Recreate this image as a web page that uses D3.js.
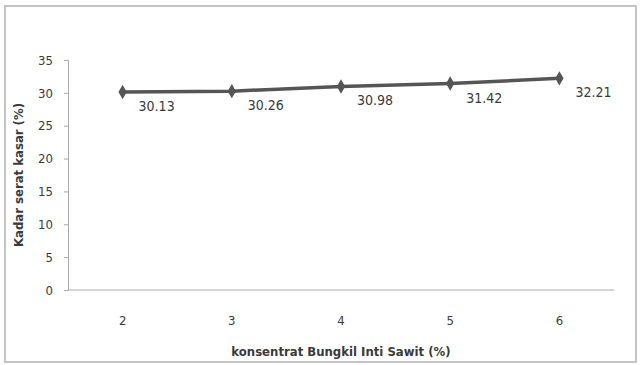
<!DOCTYPE html>
<html>
<head>
<meta charset="utf-8">
<script src="https://cdn.jsdelivr.net/npm/d3@7"></script>
<style>
  body { margin: 0; background: #fff; }
  text { font-family: "DejaVu Sans", sans-serif; font-stretch: condensed; fill: #3a3a3a; }
</style>
</head>
<body>
<div id="chart"></div>
<script>
const categories = ["2", "3", "4", "5", "6"];
const values = [30.13, 30.26, 30.98, 31.42, 32.21];
const yTicks = [0, 5, 10, 15, 20, 25, 30, 35];

const W = 641, H = 365;
const margin = { top: 60, right: 27, bottom: 75, left: 68 };

const svg = d3.select("#chart").append("svg")
    .attr("width", W)
    .attr("height", H);

// outer frame
svg.append("rect")
    .attr("x", 5).attr("y", 6)
    .attr("width", 631).attr("height", 356)
    .attr("fill", "none")
    .attr("stroke", "#c4c4c4")
    .attr("stroke-width", 2);

const x = d3.scaleBand()
    .domain(categories)
    .range([margin.left, W - margin.right]);

const y = d3.scaleLinear()
    .domain([0, 35])
    .range([H - margin.bottom, margin.top]);

// y axis
const yAxis = svg.append("g")
    .attr("transform", `translate(${margin.left},0)`)
    .call(d3.axisLeft(y).tickValues(yTicks).tickSize(4).tickPadding(11));
yAxis.select(".domain").attr("stroke", "#a8a8a8");
yAxis.selectAll(".tick line").attr("stroke", "#a8a8a8");
yAxis.selectAll("text").style("font-size", "13px").attr("fill", "#3a3a3a");

// x axis
const xAxis = svg.append("g")
    .attr("transform", `translate(0,${H - margin.bottom})`)
    .call(d3.axisBottom(x).tickSize(0).tickPadding(26));
xAxis.select(".domain").attr("stroke", "#a8a8a8").attr("d", `M${margin.left},0H${W - margin.right}`);
xAxis.selectAll("text").style("font-size", "13px").attr("fill", "#3a3a3a");

// axis titles
svg.append("text")
    .attr("x", 341)
    .attr("y", 356)
    .attr("text-anchor", "middle")
    .style("font-size", "13px")
    .style("font-weight", "bold")
    .text("konsentrat Bungkil Inti Sawit (%)");

svg.append("text")
    .attr("transform", "translate(23,175) rotate(-90)")
    .attr("text-anchor", "middle")
    .style("font-size", "13px")
    .style("font-weight", "bold")
    .text("Kadar serat kasar (%)");

const pts = categories.map((c, i) => ({ c, v: values[i] }));
const cx = d => x(d.c) + x.bandwidth() / 2;

const line = d3.line()
    .x(cx)
    .y(d => y(d.v));

svg.append("path")
    .datum(pts)
    .attr("d", line)
    .attr("fill", "none")
    .attr("stroke", "#555555")
    .attr("stroke-width", 3.5);

svg.selectAll(".marker")
    .data(pts)
    .enter().append("path")
    .attr("class", "marker")
    .attr("d", d3.symbol().type(d3.symbolDiamond).size(60))
    .attr("transform", d => `translate(${cx(d)},${y(d.v)})`)
    .attr("fill", "#555555");

svg.selectAll(".lbl")
    .data(pts)
    .enter().append("text")
    .attr("class", "lbl")
    .attr("x", d => cx(d) + 16)
    .attr("y", d => y(d.v) + 19)
    .style("font-size", "14px")
    .text(d => d.v.toFixed(2));
</script>
</body>
</html>
